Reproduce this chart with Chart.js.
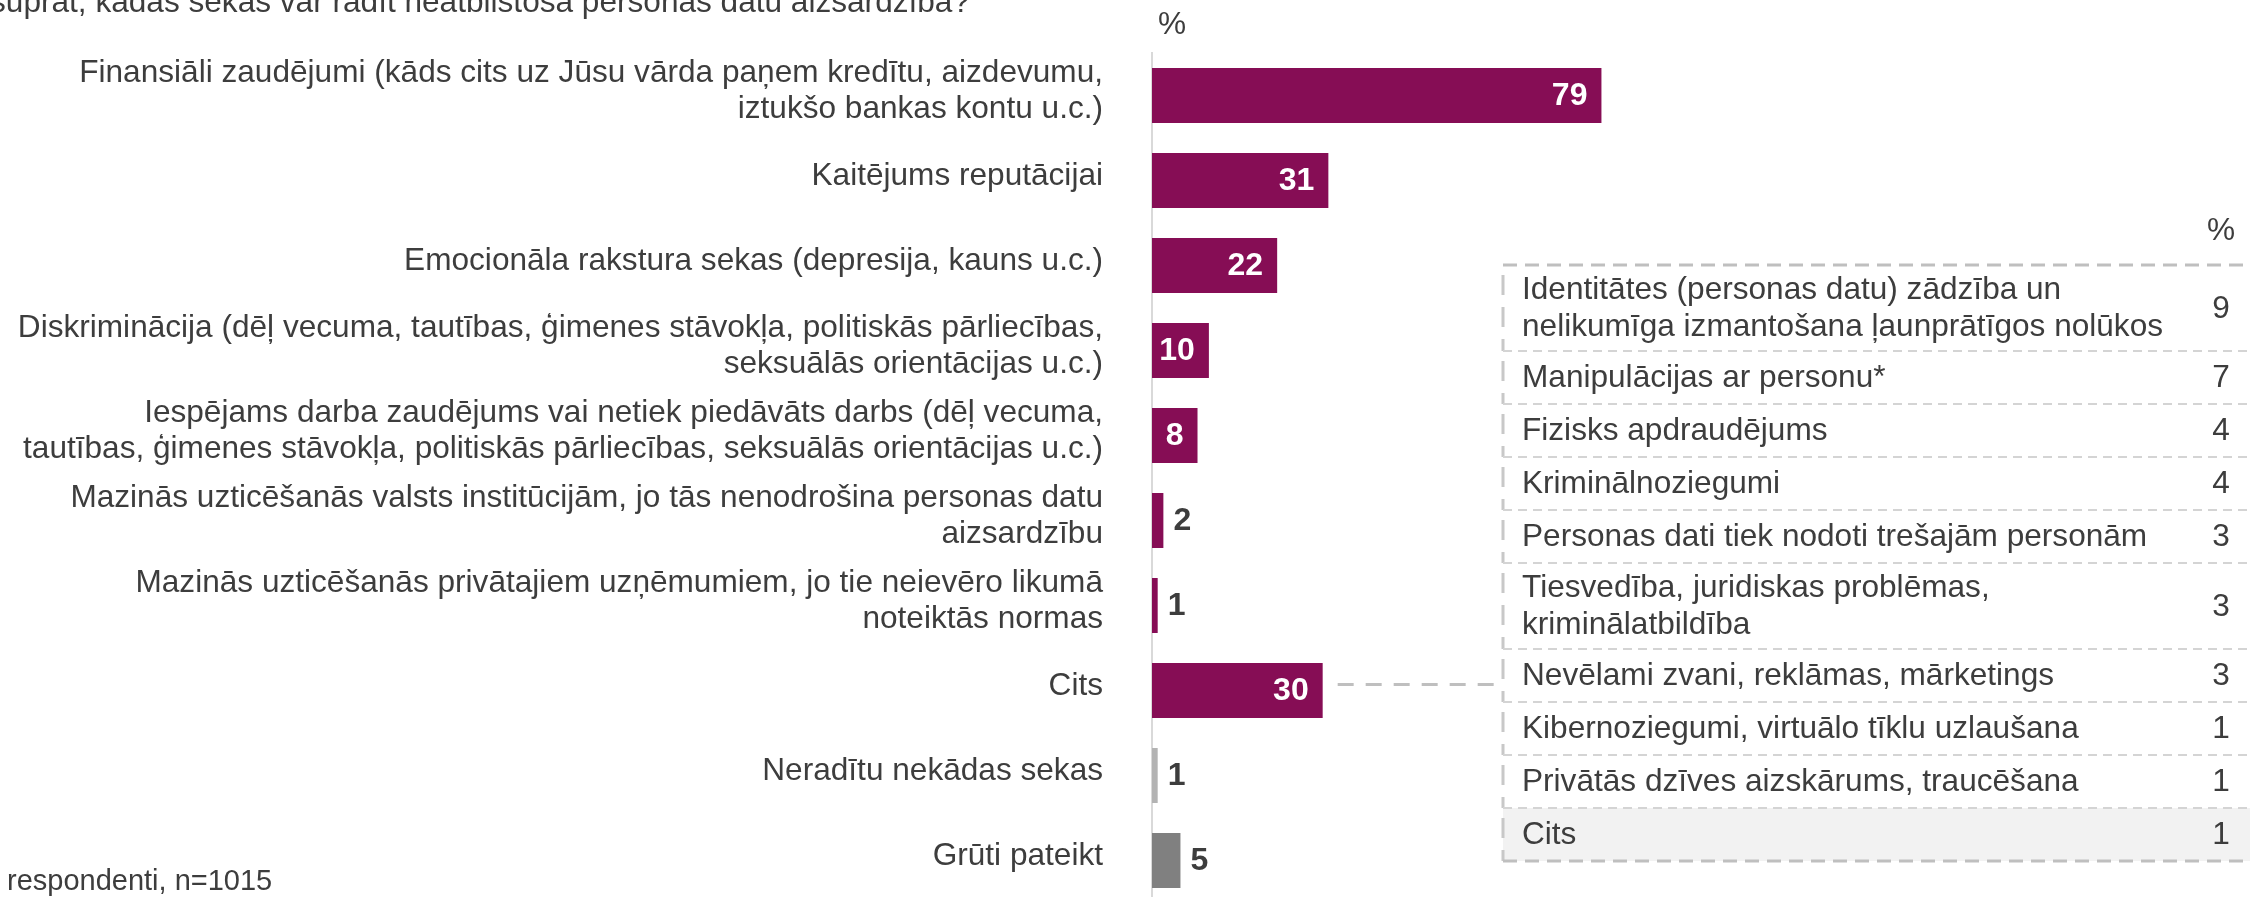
<!DOCTYPE html>
<html lang="lv">
<head>
<meta charset="UTF-8">
<title>Neatbilstošas personas datu aizsardzības sekas</title>
<script src="https://cdn.jsdelivr.net/npm/chart.js"></script>
<style>
  html, body { margin: 0; padding: 0; background: #fff; overflow: hidden; }
</style>
</head>
<body>
<canvas id="sekasChart" width="2250" height="905"></canvas>

<script>
// --- data ---
const questionText = 'Jūsuprāt, kādas sekas var radīt neatbilstoša personas datu aizsardzība?';
const baseText = 'Visi respondenti, n=1015';

const categories = [
    ['Finansiāli zaudējumi (kāds cits uz Jūsu vārda paņem kredītu, aizdevumu,', 'iztukšo bankas kontu u.c.)'],
    'Kaitējums reputācijai',
    'Emocionāla rakstura sekas (depresija, kauns u.c.)',
    ['Diskriminācija (dēļ vecuma, tautības, ģimenes stāvokļa, politiskās pārliecības,', 'seksuālās orientācijas u.c.)'],
    ['Iespējams darba zaudējums vai netiek piedāvāts darbs (dēļ vecuma,', 'tautības, ģimenes stāvokļa, politiskās pārliecības, seksuālās orientācijas u.c.)'],
    ['Mazinās uzticēšanās valsts institūcijām, jo tās nenodrošina personas datu', 'aizsardzību'],
    ['Mazinās uzticēšanās privātajiem uzņēmumiem, jo tie neievēro likumā', 'noteiktās normas'],
    'Cits',
    'Neradītu nekādas sekas',
    'Grūti pateikt'
];
const values = [79, 31, 22, 10, 8, 2, 1, 30, 1, 5];

// breakdown of "Cits"
const citsItems = [
    ['Identitātes (personas datu) zādzība un', 'nelikumīga izmantošana ļaunprātīgos nolūkos'],
    ['Manipulācijas ar personu*'],
    ['Fizisks apdraudējums'],
    ['Kriminālnoziegumi'],
    ['Personas dati tiek nodoti trešajām personām'],
    ['Tiesvedība, juridiskas problēmas,', 'kriminālatbildība'],
    ['Nevēlami zvani, reklāmas, mārketings'],
    ['Kibernoziegumi, virtuālo tīklu uzlaušana'],
    ['Privātās dzīves aizskārums, traucēšana'],
    ['Cits']
];
const citsValues = [9, 7, 4, 4, 3, 3, 3, 1, 1, 1];

// --- styling ---
const FONT = '"Liberation Sans", Arial, sans-serif';
const TEXT = '#3d3d3d';
const PURPLE = '#860D55';
const citsIndex = categories.indexOf('Cits');

function barColor(i) {
    if (categories[i] === 'Neradītu nekādas sekas') return '#b3b3b3';
    if (categories[i] === 'Grūti pateikt') return '#808080';
    return PURPLE;
}

// value labels, % signs, the Cits table and its connector
const extrasPlugin = {
    id: 'extras',
    afterDatasetsDraw(chart) {
        const ctx = chart.ctx;
        const meta = chart.getDatasetMeta(0);
        ctx.save();
        ctx.font = 'bold 32px ' + FONT;
        ctx.textBaseline = 'middle';
        meta.data.forEach((bar, i) => {
            const v = values[i];
            const inside = barColor(i) === PURPLE && v >= 8;
            if (inside) {
                ctx.fillStyle = '#ffffff';
                ctx.textAlign = 'right';
                ctx.fillText(String(v), bar.x - 14, bar.y + 1);
            } else {
                ctx.fillStyle = TEXT;
                ctx.textAlign = 'left';
                ctx.fillText(String(v), bar.x + 10, bar.y + 1);
            }
        });
        ctx.restore();
    },
    afterDraw(chart) {
        const ctx = chart.ctx;
        const area = chart.chartArea;
        ctx.save();

        // question (cut off at the top), base, % sign
        ctx.fillStyle = TEXT;
        ctx.font = '31.6px ' + FONT;
        ctx.textBaseline = 'alphabetic';
        ctx.textAlign = 'right';
        ctx.fillText(questionText, 970, 12);
        ctx.font = '29px ' + FONT;
        ctx.textAlign = 'left';
        const cut = ctx.measureText('Visi ').width;
        ctx.fillText(baseText, 7 - cut, 890);
        ctx.font = '31.6px ' + FONT;
        ctx.textAlign = 'center';
        ctx.textBaseline = 'middle';
        ctx.fillText('%', area.left + 20, 25);

        // table with the breakdown of "Cits"
        const tLeft = 1503, tTop = 265, tRight = 2262;
        const textX = 1522, valX = 2221, lineH = 37;
        ctx.fillText('%', valX, 231);

        let y = tTop;
        const rows = citsItems.map(lines => {
            const h = lines.length > 1 ? 86 : 53;
            const r = { top: y, bottom: y + h, lines };
            y += h;
            return r;
        });

        // last row background
        const last = rows[rows.length - 1];
        ctx.fillStyle = '#f2f2f2';
        ctx.fillRect(tLeft, last.top, tRight - tLeft, last.bottom - last.top);

        rows.forEach((r, i) => {
            const mid = (r.top + r.bottom) / 2;
            ctx.fillStyle = TEXT;
            ctx.font = '31.6px ' + FONT;
            ctx.textBaseline = 'middle';
            ctx.textAlign = 'left';
            r.lines.forEach((ln, k) => {
                ctx.fillText(ln, textX, mid + (k - (r.lines.length - 1) / 2) * lineH + 1);
            });
            ctx.textAlign = 'center';
            ctx.fillText(String(citsValues[i]), valX, mid + 1);

            // left edge of each row
            ctx.strokeStyle = '#c8c8c8';
            ctx.lineWidth = 3;
            ctx.setLineDash([20, 12]);
            ctx.beginPath();
            ctx.moveTo(tLeft, r.top + 10);
            ctx.lineTo(tLeft, r.bottom);
            ctx.stroke();

            // row separator
            if (i < rows.length - 1) {
                ctx.strokeStyle = '#d4d4d4';
                ctx.lineWidth = 2;
                ctx.setLineDash([9, 6]);
                ctx.beginPath();
                ctx.moveTo(tLeft, r.bottom);
                ctx.lineTo(tRight, r.bottom);
                ctx.stroke();
            }
        });

        // outer top / bottom border
        ctx.strokeStyle = '#bfbfbf';
        ctx.lineWidth = 3;
        ctx.setLineDash([14, 8]);
        [tTop, last.bottom].forEach(yy => {
            ctx.beginPath();
            ctx.moveTo(tLeft, yy);
            ctx.lineTo(tRight, yy);
            ctx.stroke();
        });

        // connector from the Cits bar to the table
        const citsBar = chart.getDatasetMeta(0).data[citsIndex];
        ctx.setLineDash([16, 12]);
        ctx.beginPath();
        ctx.moveTo(citsBar.x + 15, citsBar.y - 6);
        ctx.lineTo(tLeft, citsBar.y - 6);
        ctx.stroke();

        ctx.restore();
    }
};

const chart = new Chart(document.getElementById('sekasChart'), {
    type: 'bar',
    data: {
        labels: categories,
        datasets: [{
            data: values,
            backgroundColor: categories.map((c, i) => barColor(i)),
            categoryPercentage: 1,
            barPercentage: 0.647
        }]
    },
    options: {
        indexAxis: 'y',
        responsive: false,
        animation: false,
        layout: { padding: { top: 53, bottom: 2, left: 0, right: 0 } },
        plugins: {
            legend: { display: false },
            tooltip: { enabled: false }
        },
        scales: {
            x: { display: false, min: 0, max: 193 },
            y: {
                grid: { display: false },
                border: { display: true, color: '#d9d9d9', width: 2 },
                ticks: {
                    color: TEXT,
                    font: { family: FONT, size: 31.6, lineHeight: 1.15 },
                    padding: 41,
                    labelOffset: -4,
                    autoSkip: false
                },
                afterFit(scale) {
                    scale.width = 1152;
                    scale.paddingTop = 0;
                    scale.paddingBottom = 0;
                }
            }
        }
    },
    plugins: [extrasPlugin]
});
</script>
</body>
</html>
